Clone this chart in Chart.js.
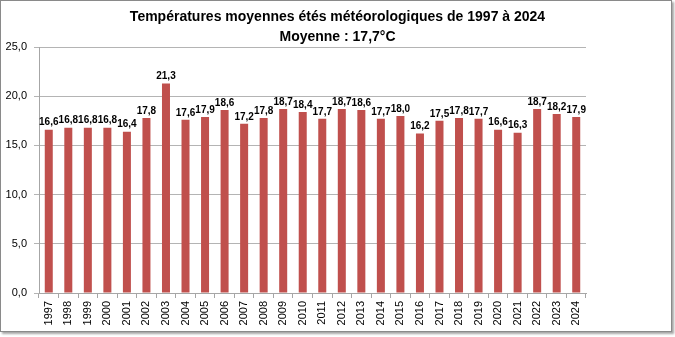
<!DOCTYPE html>
<html>
<head>
<meta charset="utf-8">
<script src="https://cdn.jsdelivr.net/npm/chart.js@4.4.1/dist/chart.umd.min.js"></script>
<style>
  html, body { margin: 0; padding: 0; background: #ffffff; }
  #wrap { position: relative; width: 675px; height: 337px; }
  #wrap canvas { position: absolute; left: 0; top: 0; }
  #frame {
    position: absolute; left: 0; top: 0; width: 670px; height: 330px;
    border: 1px solid #8a8a8a; box-shadow: 2px 2px 2px rgba(0,0,0,0.35);
    pointer-events: none;
  }
</style>
</head>
<body>
<div id="wrap">
  <canvas id="chart" width="675" height="337"></canvas>
  <div id="frame"></div>
</div>
<script>
// Summer seasons (June–August)
const years = ['1997','1998','1999','2000','2001','2002','2003','2004','2005','2006',
  '2007','2008','2009','2010','2011','2012','2013','2014','2015','2016',
  '2017','2018','2019','2020','2021','2022','2023','2024'];

// Mean summer temperature, °C
const meanTemps = [16.6, 16.8, 16.8, 16.8, 16.4, 17.8, 21.3, 17.6, 17.9, 18.6,
  17.2, 17.8, 18.7, 18.4, 17.7, 18.7, 18.6, 17.7, 18.0, 16.2,
  17.5, 17.8, 17.7, 16.6, 16.3, 18.7, 18.2, 17.9];

const titleLines = ['Températures moyennes étés météorologiques de 1997 à 2024', 'Moyenne : 17,7°C'];

const yTicks = [0, 5, 10, 15, 20, 25];

const fmt = v => v.toFixed(1).replace('.', ',');

// Value labels written above each bar
const barValueLabels = {
  id: 'barValueLabels',
  afterDatasetsDraw(chart) {
    const ctx = chart.ctx;
    const meta = chart.getDatasetMeta(0);
    ctx.save();
    ctx.font = 'bold 10px "Liberation Sans", Arial, sans-serif';
    ctx.fillStyle = '#000000';
    ctx.textAlign = 'center';
    ctx.textBaseline = 'bottom';
    meta.data.forEach((bar, i) => {
      ctx.fillText(fmt(chart.data.datasets[0].data[i]), bar.x, bar.y - 2);
    });
    ctx.restore();
  }
};

new Chart(document.getElementById('chart'), {
  type: 'bar',
  data: {
    labels: years,
    datasets: [{
      data: meanTemps,
      backgroundColor: '#C0504D',
      borderWidth: 0,
      barPercentage: 0.41,
      categoryPercentage: 1.0
    }]
  },
  options: {
    responsive: false,
    animation: false,
    devicePixelRatio: 1,
    layout: { padding: { left: 0, right: 0, top: 0, bottom: 0 } },
    plugins: {
      legend: { display: false },
      tooltip: { enabled: false },
      title: {
        display: true,
        text: titleLines,
        color: '#000000',
        font: { family: '"Liberation Sans", Arial, sans-serif', size: 14, weight: 'bold', lineHeight: 1.43 },
        padding: { top: 7, bottom: 0 }
      }
    },
    scales: {
      x: {
        afterFit(scale) { scale.height = 44; },
        grid: { display: true, offset: true, drawOnChartArea: false, drawTicks: true, tickLength: 5, color: '#a6a6a6' },
        border: { display: true, color: '#a6a6a6' },
        ticks: {
          minRotation: 90, maxRotation: 90, autoSkip: false, padding: 3,
          color: '#000000',
          font: { family: '"Liberation Sans", Arial, sans-serif', size: 11 }
        }
      },
      y: {
        min: 0, max: 25,
        afterFit(scale) { scale.width = 39; },
        afterBuildTicks(scale) { scale.ticks = yTicks.map(v => ({ value: v })); },
        grid: { color: '#b4b4b4', tickLength: 5, drawTicks: true },
        border: { display: true, color: '#a6a6a6' },
        ticks: {
          padding: 7,
          color: '#000000',
          font: { family: '"Liberation Sans", Arial, sans-serif', size: 11 },
          callback: v => fmt(v)
        }
      },
      // empty right-hand margin of the plot
      yRight: {
        position: 'right',
        min: 0, max: 25,
        afterFit(scale) { scale.width = 89; },
        grid: { display: false },
        border: { display: false },
        ticks: { display: false }
      }
    }
  },
  plugins: [barValueLabels]
});
</script>
</body>
</html>
